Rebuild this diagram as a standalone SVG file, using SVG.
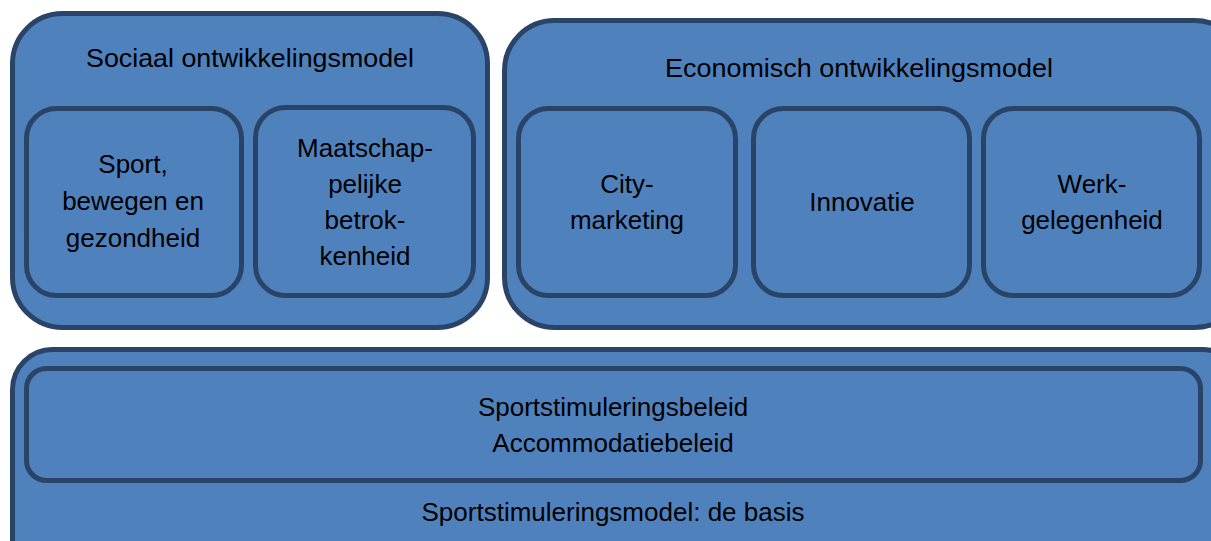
<svg xmlns="http://www.w3.org/2000/svg" width="1211" height="541" viewBox="0 0 1211 541">
<style>
.o{fill:#4f81bd;stroke:#2a4468;stroke-width:5}
.t{font-family:"Liberation Sans",Arial,sans-serif;font-size:26px;fill:#000;text-anchor:middle}
</style>
<rect width="1211" height="541" fill="#fff"/>
<g id="sociaal">
<rect class="o" x="12.5" y="13.5" width="475" height="314" rx="50"/>
<text class="t" x="250" y="67" textLength="328" lengthAdjust="spacingAndGlyphs">Sociaal ontwikkelingsmodel</text>
</g>
<g id="economisch">
<rect class="o" x="504.5" y="20.5" width="740" height="307" rx="50"/>
<text class="t" x="859" y="77" textLength="388" lengthAdjust="spacingAndGlyphs">Economisch ontwikkelingsmodel</text>
</g>
<g id="sport">
<rect class="o" x="26.5" y="108.5" width="215" height="187" rx="30"/>
<text class="t" x="133" y="173">Sport,</text>
<text class="t" x="133" y="210">bewegen en</text>
<text class="t" x="133" y="247">gezondheid</text>
</g>
<g id="maatschap">
<rect class="o" x="255.5" y="107.5" width="218" height="188" rx="30"/>
<text class="t" x="365" y="157">Maatschap-</text>
<text class="t" x="365" y="193">pelijke</text>
<text class="t" x="365" y="229">betrok-</text>
<text class="t" x="365" y="265">kenheid</text>
</g>
<g id="city">
<rect class="o" x="518.5" y="108.5" width="217" height="187" rx="30"/>
<text class="t" x="627" y="193">City-</text>
<text class="t" x="627" y="229">marketing</text>
</g>
<g id="innovatie">
<rect class="o" x="753.5" y="108.5" width="216" height="187" rx="30"/>
<text class="t" x="862" y="211">Innovatie</text>
</g>
<g id="werk">
<rect class="o" x="983.5" y="108.5" width="216" height="187" rx="30"/>
<text class="t" x="1092" y="193">Werk-</text>
<text class="t" x="1092" y="229">gelegenheid</text>
</g>
<g id="basis">
<rect class="o" x="12.5" y="349.5" width="1230" height="240" rx="40"/>
<text class="t" x="613" y="521">Sportstimuleringsmodel: de basis</text>
</g>
<g id="beleid">
<rect class="o" x="26.5" y="368.5" width="1174" height="112" rx="20"/>
<text class="t" x="613" y="416">Sportstimuleringsbeleid</text>
<text class="t" x="613" y="452">Accommodatiebeleid</text>
</g>
<g id="connectors"></g>
</svg>
